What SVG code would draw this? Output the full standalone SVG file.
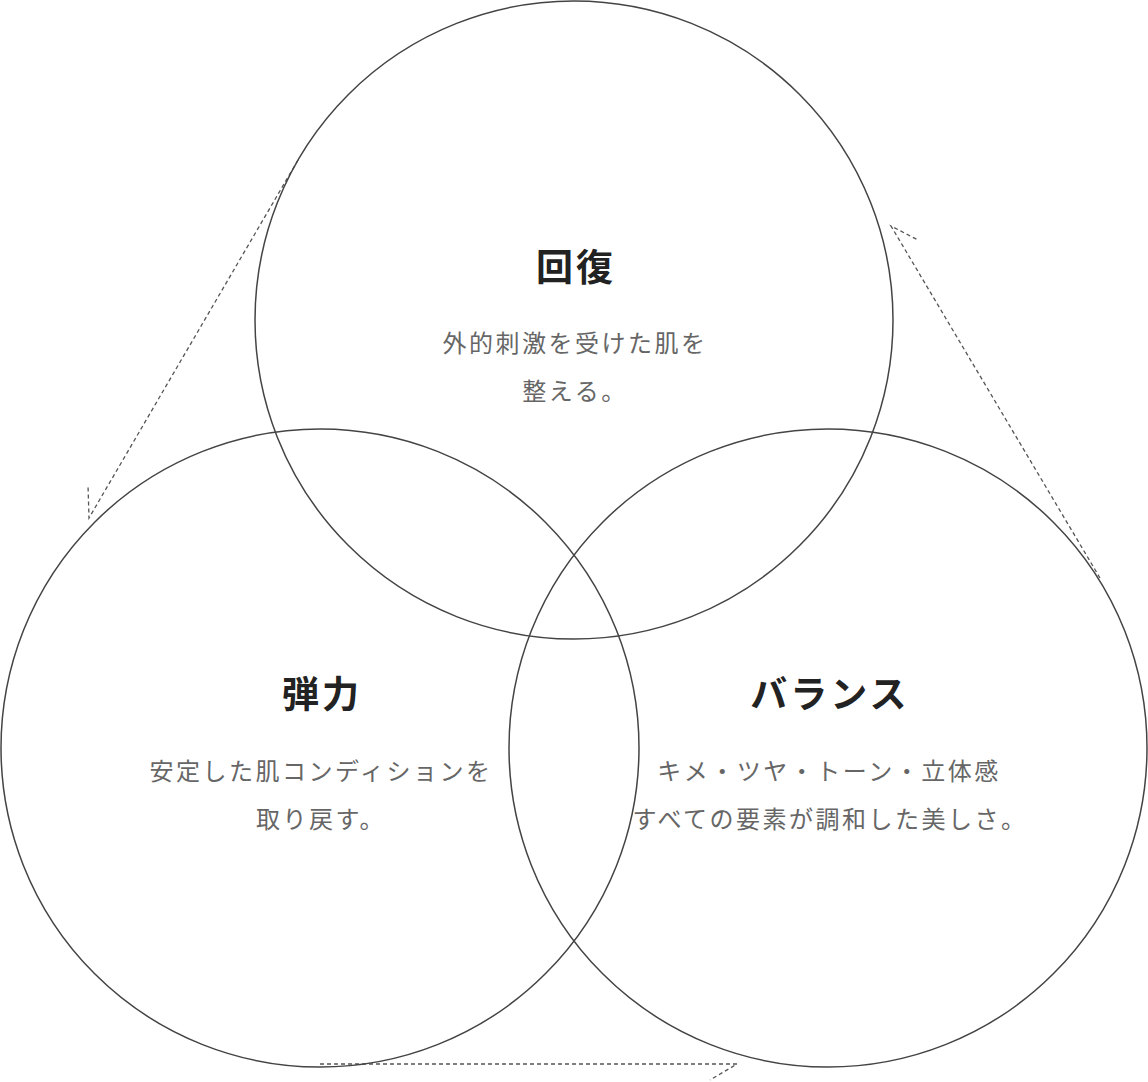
<svg xmlns="http://www.w3.org/2000/svg" width="1148" height="1082" viewBox="0 0 1148 1082">
<style>
.c{fill:none;stroke:#444;stroke-width:1.5}
.d{fill:none;stroke:#555;stroke-width:1.3;stroke-dasharray:4 3}
.t{font-family:"Noto Sans CJK JP",sans-serif;font-size:37px;font-weight:700;fill:#222;text-anchor:middle;letter-spacing:3px}
.b{font-family:"Noto Sans CJK JP",sans-serif;font-size:24px;fill:#666;text-anchor:middle;letter-spacing:2.5px}
</style>
<rect width="1148" height="1082" fill="#fff"/>
<g id="connectors">
<path class="d" d="M298,160 L89,518 L88,485"/>
<path class="d" d="M1100,578 L891,226 L918,240"/>
<path class="d" d="M320,1064 L737,1064 L710,1080"/>
</g>
<g id="kaifuku">
<circle class="c" cx="574" cy="320" r="319"/>
<text class="t" x="576" y="281">回復</text>
<text class="b" x="575" y="352">外的刺激を受けた肌を</text>
<text class="b" x="575" y="400">整える。</text>
</g>
<g id="danryoku">
<circle class="c" cx="320" cy="748" r="319"/>
<text class="t" x="322" y="708">弾力</text>
<text class="b" x="321" y="780">安定した肌コンディションを</text>
<text class="b" x="321" y="828">取り戻す。</text>
</g>
<g id="balance">
<circle class="c" cx="828" cy="748" r="319"/>
<text class="t" x="830" y="708">バランス</text>
<text class="b" x="829" y="780">キメ・ツヤ・トーン・立体感</text>
<text class="b" x="830" y="828">すべての要素が調和した美しさ。</text>
</g>
</svg>
